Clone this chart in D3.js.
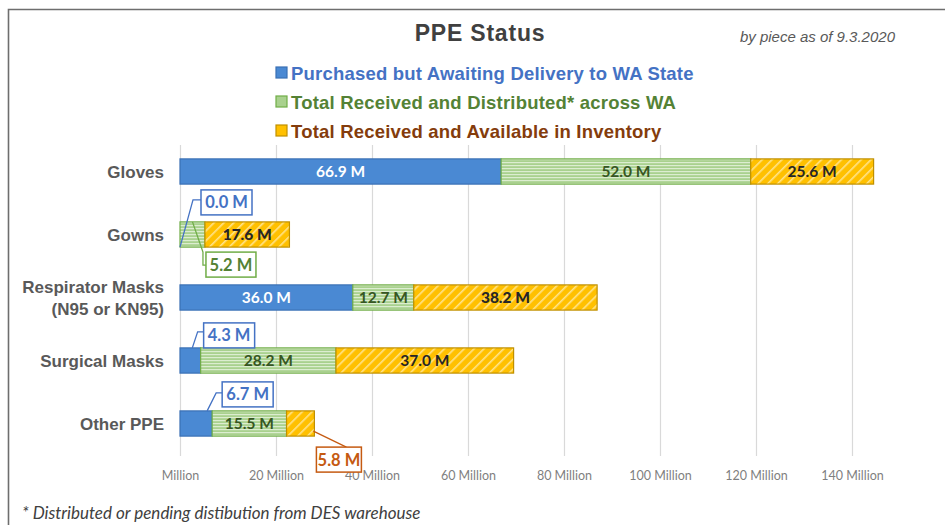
<!DOCTYPE html>
<html>
<head>
<meta charset="utf-8">
<script src="https://cdn.jsdelivr.net/npm/d3@7"></script>
<style>
  body { margin: 0; background: #fff; }
  svg { display: block; }
  .cat { font-family: "Liberation Sans", Arial, sans-serif; font-weight: bold; font-size: 17px; fill: #595959; }
  .tick-label { font-family: Lato, "Open Sans", sans-serif; font-size: 12.5px; fill: #7f7f7f; }
  .seg-label { font-family: Lato, "Open Sans", sans-serif; font-weight: bold; font-size: 15.5px; }
  .callout-text { font-family: Lato, "Open Sans", sans-serif; font-weight: bold; font-size: 16.5px; }
</style>
</head>
<body>
<svg id="chart" width="945" height="525"></svg>
<script>
// DATA
var categories = ['Gloves', 'Gowns', 'Respirator Masks|(N95 or KN95)', 'Surgical Masks', 'Other PPE'];
var awaitingDelivery = [66.9, 0.0, 36.0, 4.3, 6.7];
var receivedDistributed = [52.0, 5.2, 12.7, 28.2, 15.5];
var availableInventory = [25.6, 17.6, 38.2, 37.0, 5.8];
var tickValues = [0, 20, 40, 60, 80, 100, 120, 140];
var tickLabels = ['Million', '20 Million', '40 Million', '60 Million', '80 Million', '100 Million', '120 Million', '140 Million'];
var seriesNames = [
  'Purchased but Awaiting Delivery to WA State',
  'Total Received and Distributed* across WA',
  'Total Received and Available in Inventory'
];

// small segments get their label in a box outside the bar
// [category index, series index, leader style]
var callouts = [
  [1, 0, 'up'],
  [1, 1, 'down'],
  [3, 0, 'upShort'],
  [4, 0, 'upRight'],
  [4, 2, 'downRight']
];

// SETUP
var svg = d3.select('#chart');
var width = 945, height = 525;

var series = [
  { name: seriesNames[0], values: awaitingDelivery, fill: '#4a89d3', stroke: '#3a70b5', label: '#ffffff', legendText: '#4472c4', box: '#4472c4', boxText: '#4472c4' },
  { name: seriesNames[1], values: receivedDistributed, fill: 'url(#greenStripes)', stroke: '#70ad47', label: '#375623', legendText: '#548235', box: '#70ad47', boxText: '#548235' },
  { name: seriesNames[2], values: availableInventory, fill: 'url(#yellowHatch)', stroke: '#c09000', label: '#262626', legendText: '#843c0c', box: '#c55a11', boxText: '#c55a11' }
];

var x = d3.scaleLinear().domain([0, 140]).range([180, 852]);
var y = d3.scaleBand().domain(d3.range(categories.length)).range([140, 455])
  .paddingInner(0.6).paddingOuter(0.3);

/**
 * Patterns
 */
var defs = svg.append('defs');
var green = defs.append('pattern')
  .attr('id', 'greenStripes')
  .attr('patternUnits', 'userSpaceOnUse')
  .attr('width', 6).attr('height', 3);
green.append('rect').attr('width', 6).attr('height', 3).attr('fill', '#a9d18e');
green.append('rect').attr('y', 0).attr('width', 6).attr('height', 1.2).attr('fill', '#dcedd0');

var yellow = defs.append('pattern')
  .attr('id', 'yellowHatch')
  .attr('patternUnits', 'userSpaceOnUse')
  .attr('width', 7).attr('height', 7)
  .attr('patternTransform', 'rotate(45)');
yellow.append('rect').attr('width', 7).attr('height', 7).attr('fill', '#ffc000');
yellow.append('rect').attr('x', 0).attr('width', 1.6).attr('height', 7).attr('fill', '#ffe38a');

// background + frame
svg.append('rect').attr('width', width).attr('height', height).attr('fill', '#fff');
svg.append('path')
  .attr('d', 'M8.5,' + height + 'V9.5H' + width)
  .attr('fill', 'none')
  .attr('stroke', '#6e6e6e')
  .attr('stroke-width', 1.6);

// title
svg.append('text')
  .attr('x', 480).attr('y', 41)
  .attr('text-anchor', 'middle')
  .style('font-family', '"Liberation Sans", Arial, sans-serif')
  .style('font-weight', 'bold')
  .style('font-size', '23px')
  .style('letter-spacing', '0.8px')
  .attr('fill', '#404040')
  .text('PPE Status');

svg.append('text')
  .attr('x', 895).attr('y', 42)
  .attr('text-anchor', 'end')
  .style('font-family', '"Liberation Sans", Arial, sans-serif')
  .style('font-style', 'italic')
  .style('font-size', '15px')
  .attr('fill', '#595959')
  .text('by piece as of 9.3.2020');

// legend
var legend = svg.append('g').attr('class', 'legend');
series.forEach(function (s, i) {
  var ly = 73 + i * 29;
  legend.append('rect')
    .attr('x', 276).attr('y', ly - 6)
    .attr('width', 11).attr('height', 11)
    .attr('fill', i === 0 ? s.fill : (i === 1 ? '#a9d18e' : '#ffc000'))
    .attr('stroke', s.stroke)
    .attr('stroke-width', 1.2);
  legend.append('text')
    .attr('x', 291).attr('y', ly + 6.5)
    .style('font-family', '"Liberation Sans", Arial, sans-serif')
    .style('font-weight', 'bold')
    .style('font-size', '18.5px')
    .style('letter-spacing', '0.2px')
    .attr('fill', s.legendText)
    .text(s.name);
});

// gridlines
svg.append('g')
  .selectAll('line')
  .data(tickValues)
  .join('line')
  .attr('x1', function (d) { return x(d) + 0.5; })
  .attr('x2', function (d) { return x(d) + 0.5; })
  .attr('y1', 145).attr('y2', 456)
  .attr('stroke', '#d9d9d9')
  .attr('stroke-width', 1.2);

// x axis labels
var axis = d3.axisBottom(x)
  .tickValues(tickValues)
  .tickSize(0)
  .tickFormat(function (d, i) { return tickLabels[i]; });
var axisG = svg.append('g')
  .attr('transform', 'translate(0,468)')
  .call(axis);
axisG.select('.domain').remove();
axisG.selectAll('text').attr('class', 'tick-label').attr('dy', '0.71em');

// category labels
var catG = svg.append('g');
categories.forEach(function (c, i) {
  var lines = c.split('|');
  var cy = y(i) + y.bandwidth() / 2;
  var t = catG.append('text')
    .attr('class', 'cat')
    .attr('text-anchor', 'end')
    .attr('x', 164);
  lines.forEach(function (ln, j) {
    t.append('tspan')
      .attr('x', 164)
      .attr('y', cy + 6 + (j - (lines.length - 1) / 2) * 22)
      .text(ln);
  });
});

// stacked segments
var segments = [];
categories.forEach(function (c, i) {
  var acc = 0;
  series.forEach(function (s, k) {
    var v = s.values[i];
    segments.push({ cat: i, ser: k, x0: acc, x1: acc + v, value: v });
    acc += v;
  });
});

var isCallout = function (d) {
  return callouts.some(function (c) { return c[0] === d.cat && c[1] === d.ser; });
};

var barG = svg.append('g');
barG.selectAll('rect')
  .data(segments.filter(function (d) { return d.value > 0; }))
  .join('rect')
  .attr('x', function (d) { return x(d.x0); })
  .attr('y', function (d) { return y(d.cat); })
  .attr('width', function (d) { return x(d.x1) - x(d.x0); })
  .attr('height', y.bandwidth())
  .attr('fill', function (d) { return series[d.ser].fill; })
  .attr('stroke', function (d) { return series[d.ser].stroke; })
  .attr('stroke-width', 1.2);

barG.selectAll('text')
  .data(segments.filter(function (d) { return !isCallout(d); }))
  .join('text')
  .attr('class', 'seg-label')
  .attr('x', function (d) { return (x(d.x0) + x(d.x1)) / 2; })
  .attr('y', function (d) { return y(d.cat) + y.bandwidth() / 2 + 5.5; })
  .attr('text-anchor', 'middle')
  .attr('fill', function (d) { return series[d.ser].label; })
  .style('font-weight', function (d) { return d.ser === 2 && d.value < 20 || d.value === 38.2 ? 900 : 'bold'; })
  .text(function (d) { return d.value.toFixed(1) + ' M'; });

// callouts
var calloutG = svg.append('g');
callouts.forEach(function (c) {
  var d = segments.find(function (s) { return s.cat === c[0] && s.ser === c[1]; });
  var s = series[d.ser];
  var sx0 = x(d.x0), sx1 = x(d.x1), mid = (sx0 + sx1) / 2;
  var top = y(d.cat), bottom = top + y.bandwidth();
  var bw = 51, bh = 25, bx, by, pts;

  if (c[2] === 'up') {
    bx = sx1 + 21; by = top - 32;
    pts = [[mid, bottom], [bx - 8, by + 10], [bx, by + 10]];
  } else if (c[2] === 'down') {
    bx = sx1 + 1; by = bottom + 5; bw = 50;
    pts = [[mid, top], [bx - 3, by], [bx - 3, by + 13], [bx, by + 13]];
  } else if (c[2] === 'upShort') {
    bx = sx1 + 3; by = top - 25;
    pts = [[mid + 2, top], [bx - 6, by + 9], [bx, by + 9]];
  } else if (c[2] === 'upRight') {
    bx = sx1 + 10; by = top - 29;
    pts = [[sx1 - 5, top], [bx - 6, by + 11], [bx, by + 11]];
  } else {
    bx = sx1 + 2; by = bottom + 11; bw = 45;
    pts = [[sx1 - 1, bottom - 5], [bx + 30, by]];
  }

  calloutG.append('path')
    .attr('d', d3.line()(pts))
    .attr('fill', 'none')
    .attr('stroke', s.box)
    .attr('stroke-width', 1.3);
  calloutG.append('rect')
    .attr('x', bx).attr('y', by)
    .attr('width', bw).attr('height', bh)
    .attr('fill', '#fff')
    .attr('stroke', s.box)
    .attr('stroke-width', 1.5);
  calloutG.append('text')
    .attr('class', 'callout-text')
    .attr('x', bx + bw / 2).attr('y', by + bh / 2 + 6)
    .attr('text-anchor', 'middle')
    .attr('fill', s.boxText)
    .text(d.value.toFixed(1) + ' M');
});

// footnote
svg.append('text')
  .attr('x', 22).attr('y', 519)
  .style('font-family', 'Lato, "Open Sans", sans-serif')
  .style('font-style', 'italic')
  .style('font-size', '17px')
  .attr('fill', '#404040')
  .text('* Distributed or pending distibution from DES warehouse');
</script>
</body>
</html>
